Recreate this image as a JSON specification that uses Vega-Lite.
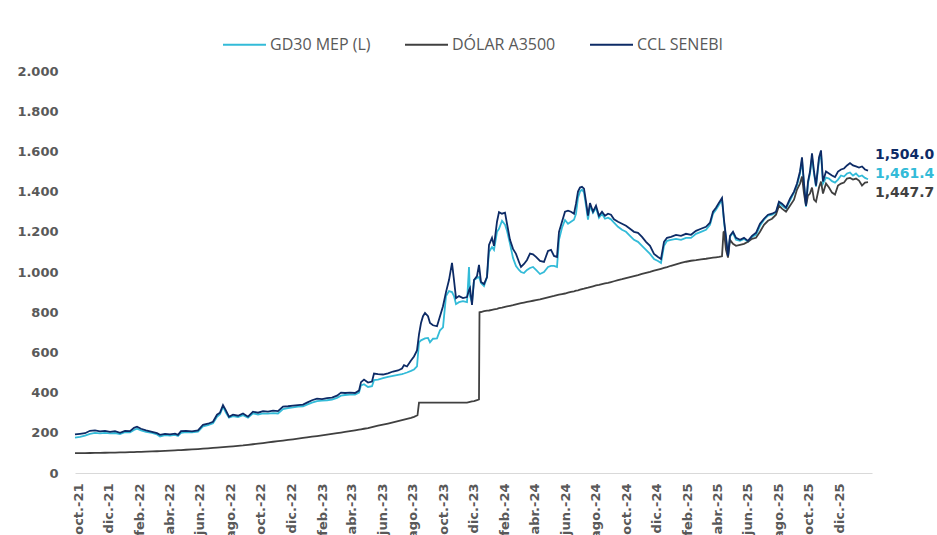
{
  "$schema": "https://vega.github.io/schema/vega-lite/v6.json",
  "width": 797,
  "height": 402,
  "autosize": {"type": "none"},
  "padding": {"left": 75, "top": 71, "right": 65, "bottom": 62},
  "background": "white",
  "config": {"view": {"stroke": null}},
  "data": {"values": [
{"d":"2021-09-25","ccl":192,"mep":176,"a3500":98.5},
{"d":"2021-10-05","ccl":195,"mep":180,"a3500":98.8},
{"d":"2021-10-15","ccl":198,"mep":186,"a3500":99.1},
{"d":"2021-10-25","ccl":210,"mep":195,"a3500":99.5},
{"d":"2021-11-04","ccl":212,"mep":200,"a3500":99.9},
{"d":"2021-11-14","ccl":207,"mep":197,"a3500":100.3},
{"d":"2021-11-24","ccl":210,"mep":200,"a3500":100.7},
{"d":"2021-12-04","ccl":205,"mep":197,"a3500":101.2},
{"d":"2021-12-14","ccl":208,"mep":199,"a3500":101.7},
{"d":"2021-12-24","ccl":200,"mep":194,"a3500":102.2},
{"d":"2022-01-03","ccl":210,"mep":203,"a3500":102.9},
{"d":"2022-01-13","ccl":208,"mep":202,"a3500":103.7},
{"d":"2022-01-21","ccl":225,"mep":214,"a3500":104.2},
{"d":"2022-01-27","ccl":230,"mep":220,"a3500":104.7},
{"d":"2022-02-04","ccl":220,"mep":212,"a3500":105.3},
{"d":"2022-02-14","ccl":212,"mep":205,"a3500":106.2},
{"d":"2022-02-26","ccl":205,"mep":200,"a3500":107.3},
{"d":"2022-03-08","ccl":198,"mep":192,"a3500":108.3},
{"d":"2022-03-14","ccl":190,"mep":182,"a3500":108.9},
{"d":"2022-03-24","ccl":195,"mep":188,"a3500":110.1},
{"d":"2022-04-03","ccl":192,"mep":186,"a3500":111.3},
{"d":"2022-04-13","ccl":196,"mep":190,"a3500":112.6},
{"d":"2022-04-19","ccl":190,"mep":184,"a3500":113.4},
{"d":"2022-04-25","ccl":208,"mep":200,"a3500":114.2},
{"d":"2022-05-05","ccl":210,"mep":204,"a3500":115.6},
{"d":"2022-05-17","ccl":207,"mep":202,"a3500":117.3},
{"d":"2022-05-29","ccl":212,"mep":206,"a3500":119.1},
{"d":"2022-06-08","ccl":240,"mep":232,"a3500":120.8},
{"d":"2022-06-18","ccl":245,"mep":238,"a3500":122.7},
{"d":"2022-06-28","ccl":255,"mep":247,"a3500":124.6},
{"d":"2022-07-06","ccl":290,"mep":280,"a3500":126.2},
{"d":"2022-07-12","ccl":300,"mep":292,"a3500":127.4},
{"d":"2022-07-18","ccl":338,"mep":330,"a3500":128.5},
{"d":"2022-07-24","ccl":310,"mep":300,"a3500":129.6},
{"d":"2022-07-30","ccl":280,"mep":275,"a3500":130.8},
{"d":"2022-08-07","ccl":290,"mep":283,"a3500":132.4},
{"d":"2022-08-17","ccl":285,"mep":278,"a3500":134.6},
{"d":"2022-08-27","ccl":296,"mep":288,"a3500":137.0},
{"d":"2022-09-06","ccl":280,"mep":275,"a3500":140.0},
{"d":"2022-09-16","ccl":305,"mep":297,"a3500":143.0},
{"d":"2022-09-26","ccl":300,"mep":291,"a3500":145.9},
{"d":"2022-10-06","ccl":308,"mep":297,"a3500":148.9},
{"d":"2022-10-16","ccl":305,"mep":295,"a3500":152.2},
{"d":"2022-10-26","ccl":310,"mep":298,"a3500":155.4},
{"d":"2022-11-05","ccl":308,"mep":296,"a3500":158.3},
{"d":"2022-11-15","ccl":330,"mep":318,"a3500":161.5},
{"d":"2022-11-25","ccl":332,"mep":323,"a3500":164.6},
{"d":"2022-12-05","ccl":335,"mep":326,"a3500":167.8},
{"d":"2022-12-15","ccl":338,"mep":330,"a3500":171.2},
{"d":"2022-12-25","ccl":340,"mep":332,"a3500":174.6},
{"d":"2023-01-02","ccl":350,"mep":340,"a3500":177.5},
{"d":"2023-01-12","ccl":362,"mep":350,"a3500":180.6},
{"d":"2023-01-22","ccl":370,"mep":358,"a3500":183.8},
{"d":"2023-02-01","ccl":368,"mep":360,"a3500":187.0},
{"d":"2023-02-11","ccl":372,"mep":362,"a3500":190.6},
{"d":"2023-02-21","ccl":375,"mep":365,"a3500":194.3},
{"d":"2023-03-03","ccl":385,"mep":374,"a3500":198.2},
{"d":"2023-03-11","ccl":400,"mep":385,"a3500":201.1},
{"d":"2023-03-19","ccl":398,"mep":388,"a3500":204.1},
{"d":"2023-03-29","ccl":400,"mep":390,"a3500":207.9},
{"d":"2023-04-08","ccl":398,"mep":390,"a3500":212.1},
{"d":"2023-04-16","ccl":410,"mep":400,"a3500":215.8},
{"d":"2023-04-20","ccl":452,"mep":436,"a3500":217.6},
{"d":"2023-04-26","ccl":465,"mep":442,"a3500":220.2},
{"d":"2023-05-04","ccl":450,"mep":428,"a3500":223.8},
{"d":"2023-05-12","ccl":455,"mep":432,"a3500":228.4},
{"d":"2023-05-16","ccl":495,"mep":462,"a3500":230.6},
{"d":"2023-05-24","ccl":492,"mep":465,"a3500":235.1},
{"d":"2023-06-03","ccl":490,"mep":472,"a3500":240.5},
{"d":"2023-06-13","ccl":496,"mep":478,"a3500":246.1},
{"d":"2023-06-23","ccl":505,"mep":483,"a3500":252.1},
{"d":"2023-07-03","ccl":510,"mep":488,"a3500":257.9},
{"d":"2023-07-11","ccl":520,"mep":492,"a3500":262.9},
{"d":"2023-07-15","ccl":537,"mep":495,"a3500":265.3},
{"d":"2023-07-21","ccl":530,"mep":500,"a3500":269.0},
{"d":"2023-07-29","ccl":560,"mep":508,"a3500":274.1},
{"d":"2023-08-04","ccl":580,"mep":515,"a3500":279.3},
{"d":"2023-08-10","ccl":610,"mep":530,"a3500":286.0},
{"d":"2023-08-11","ccl":null,"mep":null,"a3500":287.3},
{"d":"2023-08-14","ccl":690,"mep":650,"a3500":350},
{"d":"2023-08-18","ccl":746,"mep":660,"a3500":350},
{"d":"2023-08-22","ccl":780,"mep":665,"a3500":350},
{"d":"2023-08-26","ccl":796,"mep":670,"a3500":350},
{"d":"2023-09-01","ccl":780,"mep":672,"a3500":350},
{"d":"2023-09-05","ccl":746,"mep":650,"a3500":350},
{"d":"2023-09-11","ccl":735,"mep":668,"a3500":350},
{"d":"2023-09-19","ccl":730,"mep":670,"a3500":350},
{"d":"2023-09-25","ccl":780,"mep":710,"a3500":350},
{"d":"2023-10-01","ccl":830,"mep":725,"a3500":350},
{"d":"2023-10-07","ccl":900,"mep":880,"a3500":350},
{"d":"2023-10-13","ccl":960,"mep":905,"a3500":350},
{"d":"2023-10-19","ccl":1045,"mep":900,"a3500":350},
{"d":"2023-10-23","ccl":960,"mep":880,"a3500":350},
{"d":"2023-10-27","ccl":870,"mep":840,"a3500":350},
{"d":"2023-11-02","ccl":880,"mep":850,"a3500":350},
{"d":"2023-11-10","ccl":870,"mep":855,"a3500":350},
{"d":"2023-11-18","ccl":875,"mep":850,"a3500":350.5},
{"d":"2023-11-22","ccl":910,"mep":1025,"a3500":352.6},
{"d":"2023-11-24","ccl":920,"mep":880,"a3500":353.7},
{"d":"2023-11-28","ccl":836,"mep":850,"a3500":355.8},
{"d":"2023-12-02","ccl":960,"mep":960,"a3500":358},
{"d":"2023-12-08","ccl":980,"mep":970,"a3500":362},
{"d":"2023-12-12","ccl":1035,"mep":975,"a3500":366.5},
{"d":"2023-12-13","ccl":null,"mep":null,"a3500":800},
{"d":"2023-12-16","ccl":950,"mep":945,"a3500":801},
{"d":"2023-12-22","ccl":940,"mep":930,"a3500":805},
{"d":"2023-12-28","ccl":975,"mep":975,"a3500":808},
{"d":"2024-01-01","ccl":1135,"mep":1100,"a3500":808.5},
{"d":"2024-01-07","ccl":1170,"mep":1124,"a3500":812},
{"d":"2024-01-11","ccl":1130,"mep":1110,"a3500":814},
{"d":"2024-01-17","ccl":1250,"mep":1200,"a3500":817},
{"d":"2024-01-21","ccl":1298,"mep":1215,"a3500":820},
{"d":"2024-01-27","ccl":1290,"mep":1255,"a3500":823},
{"d":"2024-02-02","ccl":1295,"mep":1235,"a3500":827},
{"d":"2024-02-06","ccl":1240,"mep":1205,"a3500":829},
{"d":"2024-02-12","ccl":1160,"mep":1140,"a3500":832},
{"d":"2024-02-18","ccl":1115,"mep":1070,"a3500":835},
{"d":"2024-02-24","ccl":1090,"mep":1030,"a3500":839},
{"d":"2024-03-01","ccl":1050,"mep":1010,"a3500":843},
{"d":"2024-03-05","ccl":1025,"mep":1000,"a3500":845},
{"d":"2024-03-11","ccl":1040,"mep":995,"a3500":848},
{"d":"2024-03-17","ccl":1060,"mep":1010,"a3500":851},
{"d":"2024-03-23","ccl":1092,"mep":1020,"a3500":854},
{"d":"2024-03-29","ccl":1088,"mep":1025,"a3500":857},
{"d":"2024-04-04","ccl":1075,"mep":1010,"a3500":860},
{"d":"2024-04-12","ccl":1055,"mep":990,"a3500":864},
{"d":"2024-04-20","ccl":1050,"mep":1000,"a3500":869},
{"d":"2024-04-28","ccl":1105,"mep":1025,"a3500":874},
{"d":"2024-05-04","ccl":1110,"mep":1030,"a3500":878},
{"d":"2024-05-10","ccl":1080,"mep":1030,"a3500":881},
{"d":"2024-05-16","ccl":1075,"mep":1025,"a3500":885},
{"d":"2024-05-20","ccl":1200,"mep":1160,"a3500":887},
{"d":"2024-05-26","ccl":1250,"mep":1220,"a3500":890},
{"d":"2024-06-01","ccl":1300,"mep":1259,"a3500":893},
{"d":"2024-06-07","ccl":1305,"mep":1240,"a3500":897},
{"d":"2024-06-13","ccl":1300,"mep":1250,"a3500":901},
{"d":"2024-06-19","ccl":1290,"mep":1260,"a3500":904},
{"d":"2024-06-23","ccl":1340,"mep":1290,"a3500":907},
{"d":"2024-06-27","ccl":1400,"mep":1370,"a3500":909},
{"d":"2024-07-01","ccl":1420,"mep":1400,"a3500":912},
{"d":"2024-07-05","ccl":1424,"mep":1410,"a3500":915},
{"d":"2024-07-09","ccl":1415,"mep":1395,"a3500":917},
{"d":"2024-07-13","ccl":1350,"mep":1330,"a3500":920},
{"d":"2024-07-17","ccl":1280,"mep":1260,"a3500":922},
{"d":"2024-07-21","ccl":1343,"mep":1330,"a3500":925},
{"d":"2024-07-27","ccl":1300,"mep":1295,"a3500":929},
{"d":"2024-08-02","ccl":1330,"mep":1320,"a3500":933},
{"d":"2024-08-08","ccl":1280,"mep":1270,"a3500":936},
{"d":"2024-08-14","ccl":1300,"mep":1290,"a3500":940},
{"d":"2024-08-20","ccl":1280,"mep":1265,"a3500":943},
{"d":"2024-08-26","ccl":1290,"mep":1270,"a3500":946},
{"d":"2024-09-01","ccl":1285,"mep":1262,"a3500":950},
{"d":"2024-09-07","ccl":1262,"mep":1245,"a3500":954},
{"d":"2024-09-15","ccl":1250,"mep":1225,"a3500":959},
{"d":"2024-09-23","ccl":1240,"mep":1210,"a3500":964},
{"d":"2024-10-01","ccl":1230,"mep":1200,"a3500":970},
{"d":"2024-10-09","ccl":1215,"mep":1180,"a3500":975},
{"d":"2024-10-17","ccl":1200,"mep":1160,"a3500":980},
{"d":"2024-10-25","ccl":1195,"mep":1150,"a3500":985},
{"d":"2024-11-02","ccl":1175,"mep":1130,"a3500":991},
{"d":"2024-11-10","ccl":1150,"mep":1110,"a3500":996},
{"d":"2024-11-18","ccl":1130,"mep":1090,"a3500":1001},
{"d":"2024-11-26","ccl":1090,"mep":1065,"a3500":1007},
{"d":"2024-12-04","ccl":1075,"mep":1055,"a3500":1012},
{"d":"2024-12-10","ccl":1065,"mep":1045,"a3500":1016},
{"d":"2024-12-16","ccl":1150,"mep":1130,"a3500":1020},
{"d":"2024-12-22","ccl":1170,"mep":1155,"a3500":1024},
{"d":"2024-12-30","ccl":1175,"mep":1160,"a3500":1031},
{"d":"2025-01-09","ccl":1185,"mep":1165,"a3500":1038},
{"d":"2025-01-19","ccl":1180,"mep":1160,"a3500":1045},
{"d":"2025-01-29","ccl":1190,"mep":1170,"a3500":1051},
{"d":"2025-02-08","ccl":1185,"mep":1170,"a3500":1056},
{"d":"2025-02-18","ccl":1205,"mep":1190,"a3500":1059},
{"d":"2025-02-28","ccl":1215,"mep":1200,"a3500":1063},
{"d":"2025-03-10","ccl":1225,"mep":1210,"a3500":1066},
{"d":"2025-03-18","ccl":1245,"mep":1235,"a3500":1069},
{"d":"2025-03-24","ccl":1300,"mep":1290,"a3500":1071},
{"d":"2025-03-30","ccl":1320,"mep":1310,"a3500":1073},
{"d":"2025-04-05","ccl":1345,"mep":1335,"a3500":1075},
{"d":"2025-04-11","ccl":1368,"mep":1360,"a3500":1078},
{"d":"2025-04-14","ccl":null,"mep":null,"a3500":1198},
{"d":"2025-04-15","ccl":1260,"mep":1250,"a3500":1200},
{"d":"2025-04-19","ccl":1175,"mep":1165,"a3500":1110},
{"d":"2025-04-23","ccl":1080,"mep":1075,"a3500":1072},
{"d":"2025-04-27","ccl":1180,"mep":1175,"a3500":1160},
{"d":"2025-05-03","ccl":1200,"mep":1195,"a3500":1140},
{"d":"2025-05-09","ccl":1170,"mep":1160,"a3500":1130},
{"d":"2025-05-17","ccl":1160,"mep":1155,"a3500":1135},
{"d":"2025-05-25","ccl":1170,"mep":1165,"a3500":1140},
{"d":"2025-06-02","ccl":1155,"mep":1150,"a3500":1150},
{"d":"2025-06-10","ccl":1180,"mep":1175,"a3500":1165},
{"d":"2025-06-18","ccl":1195,"mep":1185,"a3500":1170},
{"d":"2025-06-26","ccl":1240,"mep":1230,"a3500":1200},
{"d":"2025-07-04","ccl":1265,"mep":1260,"a3500":1235},
{"d":"2025-07-12","ccl":1285,"mep":1280,"a3500":1255},
{"d":"2025-07-20","ccl":1290,"mep":1285,"a3500":1265},
{"d":"2025-07-28","ccl":1300,"mep":1295,"a3500":1285},
{"d":"2025-08-03","ccl":1350,"mep":1345,"a3500":1330},
{"d":"2025-08-09","ccl":1340,"mep":1330,"a3500":1315},
{"d":"2025-08-17","ccl":1320,"mep":1315,"a3500":1300},
{"d":"2025-08-25","ccl":1365,"mep":1355,"a3500":1330},
{"d":"2025-09-02","ccl":1400,"mep":1395,"a3500":1360},
{"d":"2025-09-08","ccl":1440,"mep":1430,"a3500":1410},
{"d":"2025-09-14","ccl":1500,"mep":1490,"a3500":1440},
{"d":"2025-09-18","ccl":1570,"mep":1555,"a3500":1475},
{"d":"2025-09-22","ccl":1440,"mep":1435,"a3500":1390},
{"d":"2025-09-26","ccl":1330,"mep":1325,"a3500":1330},
{"d":"2025-09-30","ccl":1450,"mep":1440,"a3500":1380},
{"d":"2025-10-04","ccl":1500,"mep":1490,"a3500":1390},
{"d":"2025-10-08","ccl":1590,"mep":1570,"a3500":1420},
{"d":"2025-10-12","ccl":1500,"mep":1490,"a3500":1360},
{"d":"2025-10-16","ccl":1430,"mep":1425,"a3500":1350},
{"d":"2025-10-22","ccl":1570,"mep":1555,"a3500":1420},
{"d":"2025-10-26","ccl":1605,"mep":1590,"a3500":1450},
{"d":"2025-10-30","ccl":1450,"mep":1440,"a3500":1390},
{"d":"2025-11-05","ccl":1500,"mep":1470,"a3500":1440},
{"d":"2025-11-11","ccl":1490,"mep":1465,"a3500":1420},
{"d":"2025-11-17","ccl":1480,"mep":1452,"a3500":1395},
{"d":"2025-11-23","ccl":1472,"mep":1445,"a3500":1385},
{"d":"2025-11-29","ccl":1500,"mep":1460,"a3500":1430},
{"d":"2025-12-05","ccl":1510,"mep":1480,"a3500":1440},
{"d":"2025-12-11","ccl":1515,"mep":1475,"a3500":1445},
{"d":"2025-12-17","ccl":1530,"mep":1490,"a3500":1465},
{"d":"2025-12-23","ccl":1542,"mep":1495,"a3500":1468},
{"d":"2025-12-29","ccl":1530,"mep":1480,"a3500":1460},
{"d":"2026-01-04","ccl":1525,"mep":1490,"a3500":1465},
{"d":"2026-01-10","ccl":1520,"mep":1475,"a3500":1455},
{"d":"2026-01-16","ccl":1525,"mep":1480,"a3500":1430},
{"d":"2026-01-22","ccl":1510,"mep":1468,"a3500":1445},
{"d":"2026-01-28","ccl":1504,"mep":1461.4,"a3500":1447.7}
  ]},
  "transform": [
    {"fold": ["mep", "a3500", "ccl"], "as": ["k", "v"]},
    {"filter": "isValid(datum.v)"}
  ],
  "encoding": {
    "x": {
      "field": "d", "type": "temporal",
      "scale": {"type": "utc", "domain": [{"year": 2021, "month": 9, "date": 25, "utc": true}, {"year": 2026, "month": 2, "date": 5, "utc": true}]},
      "axis": {
        "title": null,
        "values": [
          {"year":2021,"month":10,"date":1,"utc":true},{"year":2021,"month":12,"date":1,"utc":true},
          {"year":2022,"month":2,"date":1,"utc":true},{"year":2022,"month":4,"date":1,"utc":true},{"year":2022,"month":6,"date":1,"utc":true},{"year":2022,"month":8,"date":1,"utc":true},{"year":2022,"month":10,"date":1,"utc":true},{"year":2022,"month":12,"date":1,"utc":true},
          {"year":2023,"month":2,"date":1,"utc":true},{"year":2023,"month":4,"date":1,"utc":true},{"year":2023,"month":6,"date":1,"utc":true},{"year":2023,"month":8,"date":1,"utc":true},{"year":2023,"month":10,"date":1,"utc":true},{"year":2023,"month":12,"date":1,"utc":true},
          {"year":2024,"month":2,"date":1,"utc":true},{"year":2024,"month":4,"date":1,"utc":true},{"year":2024,"month":6,"date":1,"utc":true},{"year":2024,"month":8,"date":1,"utc":true},{"year":2024,"month":10,"date":1,"utc":true},{"year":2024,"month":12,"date":1,"utc":true},
          {"year":2025,"month":2,"date":1,"utc":true},{"year":2025,"month":4,"date":1,"utc":true},{"year":2025,"month":6,"date":1,"utc":true},{"year":2025,"month":8,"date":1,"utc":true},{"year":2025,"month":10,"date":1,"utc":true},{"year":2025,"month":12,"date":1,"utc":true}
        ],
        "labelExpr": "['ene.','feb.','mar.','abr.','may.','jun.','jul.','ago.','sep.','oct.','nov.','dic.'][utcmonth(datum.value)] + '-' + utcFormat(datum.value, '%y')",
        "labelAngle": 270,
        "labelFont": "DejaVu Sans",
        "labelFontWeight": "bold",
        "labelFontSize": 13,
        "labelColor": "#595959",
        "labelPadding": 10,
        "labelOverlap": false,
        "labelFlush": false,
        "ticks": false,
        "tickSize": 0,
        "grid": false,
        "domainColor": "#d9d9d9",
        "domainWidth": 1
      }
    },
    "y": {
      "field": "v", "type": "quantitative",
      "scale": {"domain": [0, 2000], "nice": false},
      "axis": {
        "title": null,
        "values": [0, 200, 400, 600, 800, 1000, 1200, 1400, 1600, 1800, 2000],
        "labelExpr": "replace(format(datum.value, ','), ',', '.')",
        "labelFont": "DejaVu Sans",
        "labelFontWeight": "bold",
        "labelFontSize": 13,
        "labelColor": "#595959",
        "labelPadding": 17,
        "ticks": false,
        "tickSize": 0,
        "domain": false,
        "grid": false
      }
    }
  },
  "layer": [
    {
      "mark": {"type": "line", "strokeWidth": 1.8},
      "encoding": {
        "color": {
          "field": "k", "type": "nominal",
          "scale": {"domain": ["mep", "a3500", "ccl"], "range": ["#33BBD8", "#404040", "#0D2B66"]},
          "legend": {
            "title": null,
            "orient": "none",
            "direction": "horizontal",
            "legendX": 147,
            "legendY": -49,
            "labelExpr": "datum.label == 'mep' ? 'GD30 MEP (L)' : datum.label == 'a3500' ? 'DÓLAR A3500' : 'CCL SENEBI'",
            "labelFont": "Open Sans",
            "labelFontSize": 16,
            "labelColor": "#595959",
            "labelOffset": 3,
            "columnPadding": 30,
            "symbolType": "stroke",
            "symbolSize": 1849,
            "symbolStrokeWidth": 2
          }
        }
      }
    },
    {
      "transform": [{"filter": "datum.k == 'ccl' && time(datum.d) == utc(2026,0,28)"}],
      "mark": {"type": "text", "align": "left", "dx": 7, "dy": -16, "font": "DejaVu Sans", "fontWeight": "bold", "fontSize": 14, "color": "#0D2B66"},
      "encoding": {"text": {"field": "v", "type": "quantitative", "format": ",.1f"}}
    },
    {
      "transform": [{"filter": "datum.k == 'mep' && time(datum.d) == utc(2026,0,28)"}],
      "mark": {"type": "text", "align": "left", "dx": 7, "dy": -5, "font": "DejaVu Sans", "fontWeight": "bold", "fontSize": 14, "color": "#33BBD8"},
      "encoding": {"text": {"field": "v", "type": "quantitative", "format": ",.1f"}}
    },
    {
      "transform": [{"filter": "datum.k == 'a3500' && time(datum.d) == utc(2026,0,28)"}],
      "mark": {"type": "text", "align": "left", "dx": 7, "dy": 11, "font": "DejaVu Sans", "fontWeight": "bold", "fontSize": 14, "color": "#404040"},
      "encoding": {"text": {"field": "v", "type": "quantitative", "format": ",.1f"}}
    }
  ]
}
